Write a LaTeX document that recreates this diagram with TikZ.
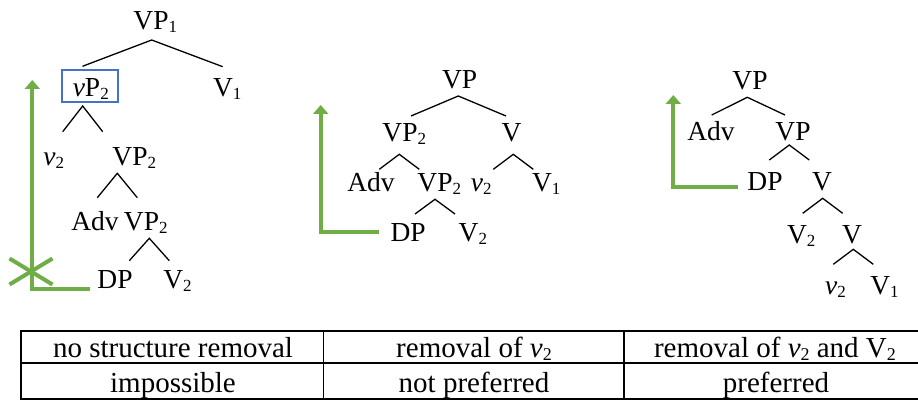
\documentclass[tikz,border=0pt]{standalone}
\usepackage{fontspec}
\setmainfont{Liberation Serif}
\usetikzlibrary{arrows.meta}
\definecolor{officegreen}{HTML}{70AD47}
\definecolor{officeblue}{HTML}{4472C4}
\newcommand\sbs[1]{\rlap{\raisebox{-3pt}{\fontsize{17}{17}\selectfont #1}}}
\newcommand\sbt[1]{\raisebox{-3pt}{\fontsize{18}{18}\selectfont #1}}
% caret under a node: name, apex x-offset, apex y-offset (below baseline), height
\newcommand\caret[4]{\draw[branch] ([shift={(#2-20,#3+#4)}]#1.base) -- ([shift={(#2,#3)}]#1.base) -- ([shift={(#2+20,#3+#4)}]#1.base);}
\tikzset{
  tree/.style={font=\fontsize{27.5}{30}\selectfont, inner sep=0pt, anchor=base},
  cell/.style={font=\fontsize{29}{31}\selectfont, inner sep=0pt, anchor=base},
  branch/.style={draw=black, line width=1.3pt},
  garrow/.style={draw=officegreen, line width=4pt, -{Triangle[length=9pt,width=15pt]}},
  gline/.style={draw=officegreen, line width=4pt},
  bluebox/.style={draw=officeblue, line width=2pt, inner sep=0pt},
  rule/.style={draw=black, line width=1.8pt}
}
\begin{document}
\begin{tikzpicture}[x=1pt, y=-1pt]
\useasboundingbox (0,0) rectangle (918,401);

% ---------- Tree 1 ----------
\node[tree] (VPa) at (151,30) {VP\sbs{1}};
\node[bluebox, minimum width=56pt, minimum height=31.7pt] (boxA) at (89.7,85.85) {};
\node[tree] (vPa) at (86.5,96.7) {\textit{v}P\sbs{2}};
\node[tree] (V1a) at (223,96.7) {V\sbs{1}};
\node[tree] (v2a) at (49.5,165) {\textit{v}\sbs{2}};
\node[tree] (VP2a) at (130,165) {VP\sbs{2}};
\node[tree] (Adva) at (95,230.7) {Adv};
\node[tree] (VP2b) at (141.5,230.7) {VP\sbs{2}};
\node[tree] (DPa) at (115,288.3) {DP};
\node[tree] (V2a) at (173.3,288.3) {V\sbs{2}};

\draw[branch] ([shift={(-4,-30.4)}]vPa.base) -- ([shift={(0.7,10)}]VPa.base) -- ([shift={(-0.3,-30)}]V1a.base);
\caret{vPa}{-3.8}{9.3}{25.7}
\caret{VP2a}{-12.7}{8.3}{24.4}
\caret{VP2b}{7.8}{7.6}{22.4}

\coordinate (cornerA) at (32.3,289);
\coordinate (tipA) at (32.3,80);
\coordinate (crossA) at (31,271.5);
\draw[gline] ([xshift=-7.4pt]DPa.west |- cornerA) -- (cornerA);
\draw[garrow] (cornerA) ++(0,2) -- (tipA);
\draw[gline] (crossA) ++(-21.5,-13) -- ++(43,26);
\draw[gline] (crossA) ++(-21.5,13) -- ++(43,-26);

% ---------- Tree 2 ----------
\node[tree] (VPc) at (459.7,88.3) {VP};
\node[tree] (VP2c) at (400,141.7) {VP\sbs{2}};
\node[tree] (Vc) at (511.5,141.7) {V};
\node[tree] (Advc) at (371,191.7) {Adv};
\node[tree] (VP2d) at (435,191.7) {VP\sbs{2}};
\node[tree] (v2c) at (477,191.7) {\textit{v}\sbs{2}};
\node[tree] (V1c) at (542,191.7) {V\sbs{1}};
\node[tree] (DPc) at (408.2,241.7) {DP};
\node[tree] (V2c) at (468.6,241.7) {V\sbs{2}};

\draw[branch] ([shift={(11,-25.7)}]VP2c.base) -- ([shift={(-1.4,7.7)}]VPc.base) -- ([shift={(-5.5,-25.7)}]Vc.base);
\caret{VP2c}{-0.7}{12.6}{15}
\caret{Vc}{1.8}{12.6}{15}
\caret{VP2d}{0}{7.6}{14.7}

\coordinate (cornerB) at (320.7,231.7);
\coordinate (tipB) at (320.7,105);
\draw[gline] ([xshift=-11.7pt]DPc.west |- cornerB) -- (cornerB);
\draw[garrow] (cornerB) ++(0,2) -- (tipB);

% ---------- Tree 3 ----------
\node[tree] (VPe) at (750,90) {VP};
\node[tree] (Adve) at (711,140) {Adv};
\node[tree] (VPf) at (793,140) {VP};
\node[tree] (DPf) at (765,190) {DP};
\node[tree] (Vf) at (822,190) {V};
\node[tree] (V2g) at (797,243.3) {V\sbs{2}};
\node[tree] (Vg) at (852,243.3) {V};
\node[tree] (v2h) at (831.3,294) {\textit{v}\sbs{2}};
\node[tree] (V1h) at (880.3,294) {V\sbs{1}};

\draw[branch] ([shift={(0.7,-25)}]Adve.base) -- ([shift={(-2.7,7.3)}]VPe.base) -- ([shift={(-8,-25)}]VPf.base);
\caret{VPf}{-3.7}{5}{15}
\caret{Vf}{0.7}{8.3}{15}
\caret{Vg}{1.3}{6}{15}

\coordinate (cornerC) at (673.3,186.7);
\coordinate (tipC) at (673.3,95);
\draw[gline] ([xshift=-9.3pt]DPf.west |- cornerC) -- (cornerC);
\draw[garrow] (cornerC) ++(0,2) -- (tipC);

% ---------- Table ----------
\coordinate (tl) at (21,331);
\coordinate (tr) at (918,331);
\coordinate (ml) at (21,363);
\coordinate (mr) at (918,363);
\coordinate (bl) at (21,399);
\coordinate (br) at (918,399);
\coordinate (d1t) at (323.5,331);
\coordinate (d1b) at (323.5,399);
\coordinate (d2t) at (624,331);
\coordinate (d2b) at (624,399);
\draw[rule] (tr) -- (tl) -- (bl) -- (br);
\draw[rule] (ml) -- (mr);
\draw[rule] (d1t) -- (d1b);
\draw[rule] (d2t) -- (d2b);

\node[cell] (c11) at (173,357) {no structure removal};
\node[cell] (c12) at (474,357) {removal of \textit{v}\sbt{2}};
\node[cell] (c13) at (775,357) {removal of \textit{v}\sbt{2} and V\sbt{2}};
\node[cell] (c21) at (173,392) {impossible};
\node[cell] (c22) at (474,392) {not preferred};
\node[cell] (c23) at (776,392) {preferred};
\end{tikzpicture}
\end{document}
